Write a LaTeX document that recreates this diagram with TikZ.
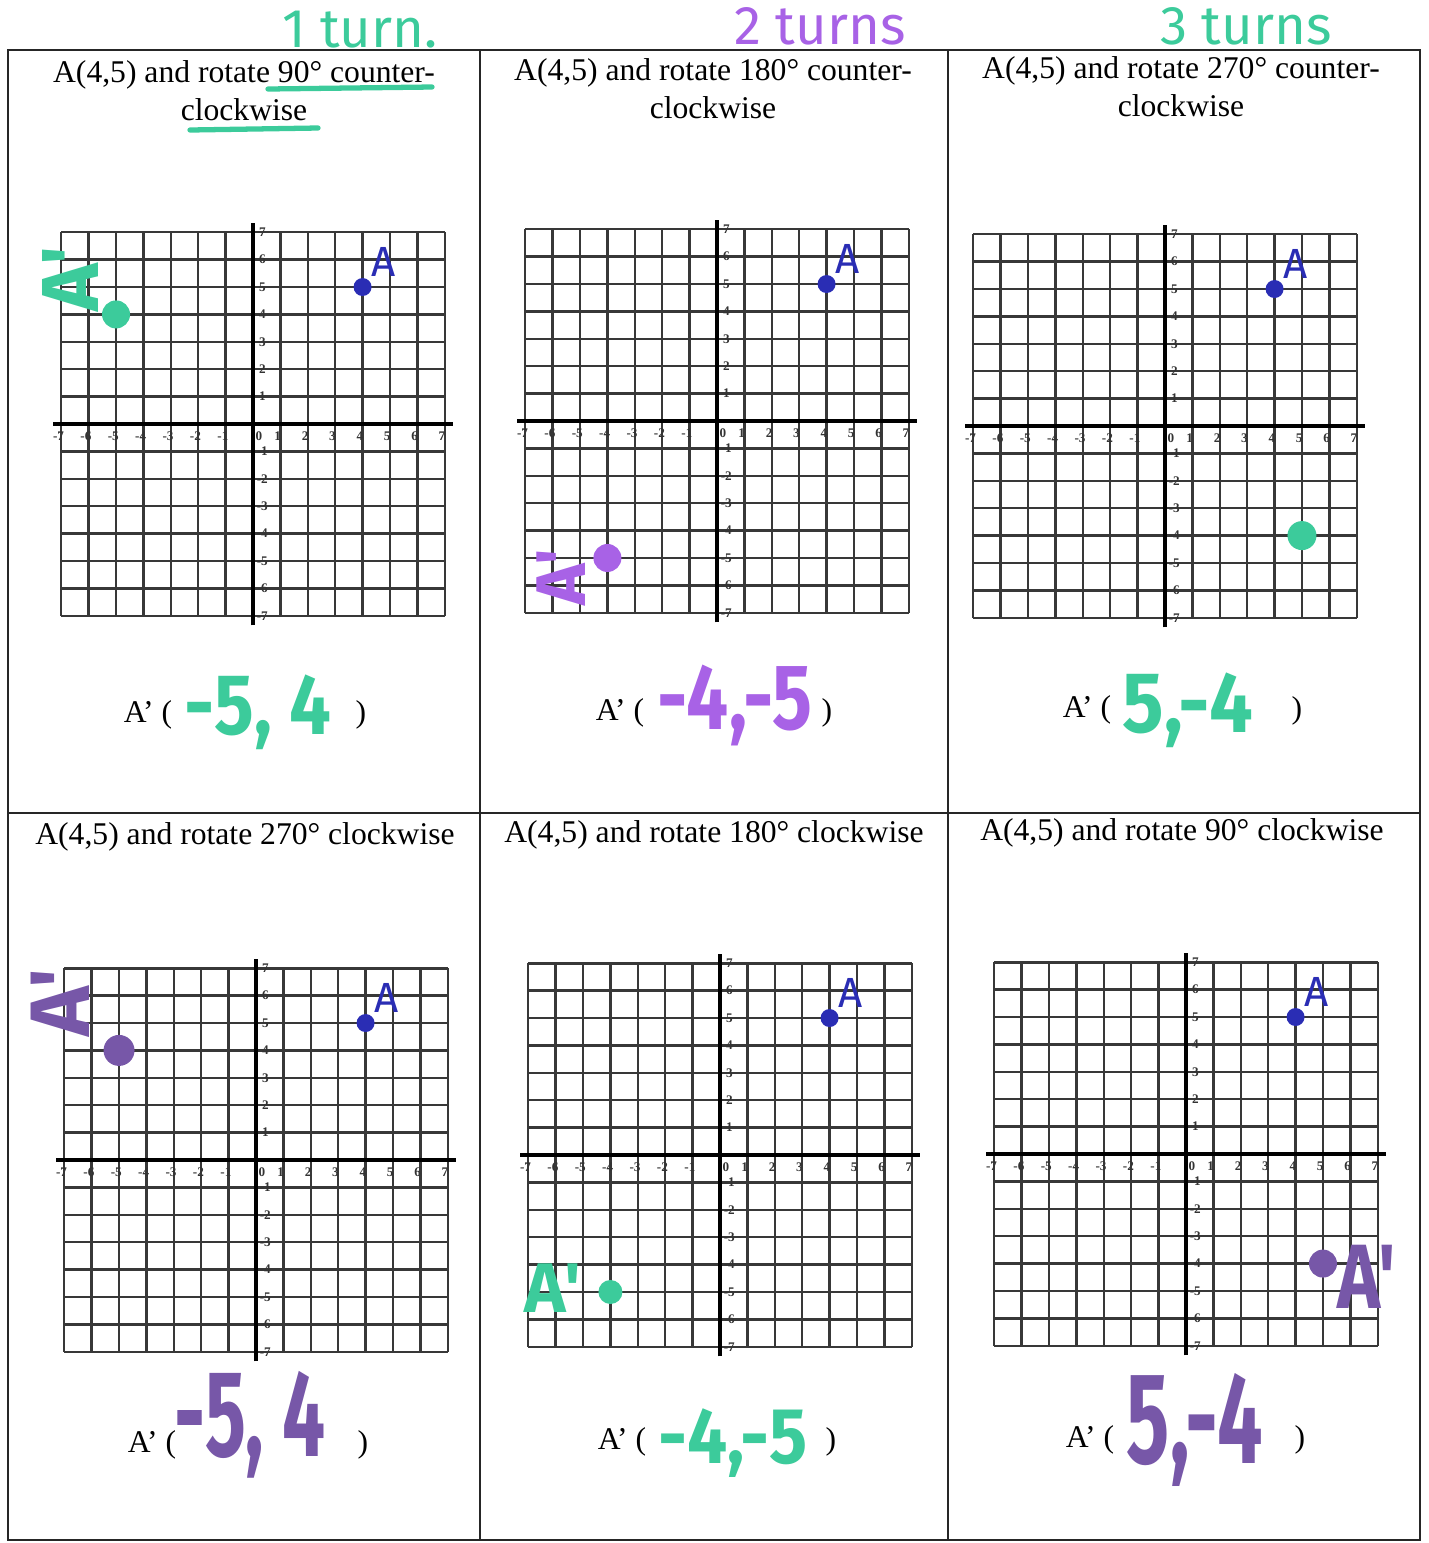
\documentclass[tikz,border=0pt]{standalone}
\usepackage{fontspec}
\setmainfont{Liberation Serif}
\newfontfamily\handfont{Fira Sans}
\usetikzlibrary{positioning}

\definecolor{mintink}{HTML}{3CCB9B}
\definecolor{violetink}{HTML}{A862E6}
\definecolor{plumink}{HTML}{7757A8}
\definecolor{blueink}{HTML}{2A2DB4}

% one 14 x 14 coordinate grid with point A(4,5)
\newcommand\rotgrid[1]{%
  \draw[gridline, step=0.548cm] (-7,-7) grid (7,7);
  \draw[axisline] (-7.3,0) -- (7.3,0);
  \draw[axisline] (0,-7.35) -- (0,7.35);
  \foreach \k [count=\n] in {-7,...,-1,1,2,...,7} {
    \node[tick] (#1x\n) at (\k-0.1,-0.45) {\k};
    \node[tick] (#1y\n) at (0.34,\k) {\k};
  }
  \node[tick] (#1x0) at (0.22,-0.45) {0};
  \node[adot] (#1A) at (4,5) {};
  \node[alabel, above right=2pt and 1pt of #1A] (#1L) {A};
}

\begin{document}
\begin{tikzpicture}[
  x=0.02cm, y=-0.02cm,
  rule/.style={line width=0.8pt, black!85},
  gridline/.style={line width=1.4pt, black!78},
  axisline/.style={line width=2.3pt, black},
  tick/.style={inner sep=0pt, font=\fontsize{7.5}{7.5}\selectfont\bfseries, black!80},
  captext/.style={align=center, inner sep=0pt, font=\fontsize{18}{21.5}\selectfont},
  adot/.style={circle, fill=blueink, inner sep=0pt, minimum size=0.36cm},
  alabel/.style={inner sep=0pt, text=blueink, font=\handfont\fontsize{24}{24}\selectfont},
  idot/.style={circle, inner sep=0pt, minimum size=0.56cm},
  ink/.style={inner sep=0pt, font=\handfont\bfseries\fontsize{#1}{#1}\selectfont},
  turnnote/.style={inner sep=0pt, font=\handfont\fontsize{31}{31}\selectfont},
  marker/.style={line width=3pt, mintink, line cap=round}
]
\useasboundingbox (0,0) rectangle (1428,1543);

% table
\draw[rule] (8,50) rectangle (1420,1540);
\draw[rule] (480,50) -- (480,1540);
\draw[rule] (948,50) -- (948,1540);
\draw[rule] (8,813) -- (1420,813);

% notes above the table
\node[turnnote, text=mintink] (turn1) at (360,30) {1 turn.};
\node[turnnote, text=violetink] (turn2) at (820,26) {2 turns};
\node[turnnote, text=mintink] (turn3) at (1246,26) {3 turns};

% captions
\node[captext] (cap1) at (244,91) {A(4,5) and rotate 90° counter-\\clockwise};
\node[captext] (cap2) at (713,89) {A(4,5) and rotate 180° counter-\\clockwise};
\node[captext] (cap3) at (1181,87) {A(4,5) and rotate 270° counter-\\clockwise};
\node[captext] (cap4) at (245,837) {A(4,5) and rotate 270° clockwise};
\node[captext] (cap5) at (714,835) {A(4,5) and rotate 180° clockwise};
\node[captext] (cap6) at (1182,833) {A(4,5) and rotate 90° clockwise};
\draw[marker] (268,89) -- (432,87);
\draw[marker] (190,130) -- (318,128);

% grids
\begin{scope}[shift={(253,424)}, x=0.548cm, y=0.548cm]
  \rotgrid{p1}
  \node[idot, fill=mintink] (p1B) at (-5,4) {};
  \node[ink=46, text=mintink, rotate=90] (p1P) at (-6.65,5.3) {A'};
\end{scope}
\begin{scope}[shift={(717,421)}, x=0.548cm, y=0.548cm]
  \rotgrid{p2}
  \node[idot, fill=violetink] (p2B) at (-4,-5) {};
  \node[ink=40, text=violetink, rotate=90] (p2P) at (-5.7,-5.7) {A'};
\end{scope}
\begin{scope}[shift={(1165,426)}, x=0.548cm, y=0.548cm]
  \rotgrid{p3}
  \node[idot, fill=mintink, minimum size=0.58cm] (p3B) at (5,-4) {};
\end{scope}
\begin{scope}[shift={(256,1160)}, x=0.548cm, y=0.548cm]
  \rotgrid{p4}
  \node[idot, fill=plumink, minimum size=0.62cm] (p4B) at (-5,4) {};
  \node[ink=48, text=plumink, rotate=90] (p4P) at (-7.15,5.75) {A'};
\end{scope}
\begin{scope}[shift={(720,1155)}, x=0.548cm, y=0.548cm]
  \rotgrid{p5}
  \node[idot, fill=mintink, minimum size=0.48cm] (p5B) at (-4,-5) {};
  \node[ink=40, text=mintink] (p5P) at (-6.1,-4.85) {A'};
\end{scope}
\begin{scope}[shift={(1186,1154)}, x=0.548cm, y=0.548cm]
  \rotgrid{p6}
  \node[idot, fill=plumink] (p6B) at (5,-4) {};
  \node[ink=52, text=plumink, xscale=0.8] (p6P) at (6.6,-4.5) {A'};
\end{scope}

% answers
\node[captext] (ans1) at (148,715) {A’ (};
\node[ink=49, text=mintink, xscale=0.86] (val1) at (258,712) {-5, 4};
\node[captext] (cls1) at (361,715) {)};
\node[captext] (ans2) at (620,713) {A’ (};
\node[ink=53, text=violetink, xscale=0.8] (val2) at (735,705) {-4,-5};
\node[captext] (cls2) at (827,713) {)};
\node[captext] (ans3) at (1087,710) {A’ (};
\node[ink=49, text=mintink, xscale=0.9] (val3) at (1188,710) {5,-4};
\node[captext] (cls3) at (1297,711) {)};
\node[captext] (ans4) at (152,1445) {A’ (};
\node[ink=70, text=plumink, xscale=0.62] (val4) at (250,1425) {-5, 4};
\node[captext] (cls4) at (363,1445) {)};
\node[captext] (ans5) at (622,1442) {A’ (};
\node[ink=45, text=mintink, xscale=0.9] (val5) at (733,1443) {-4,-5};
\node[captext] (cls5) at (831,1442) {)};
\node[captext] (ans6) at (1090,1440) {A’ (};
\node[ink=74, text=plumink, xscale=0.62] (val6) at (1195,1430) {5,-4};
\node[captext] (cls6) at (1300,1440) {)};
\end{tikzpicture}
\end{document}
